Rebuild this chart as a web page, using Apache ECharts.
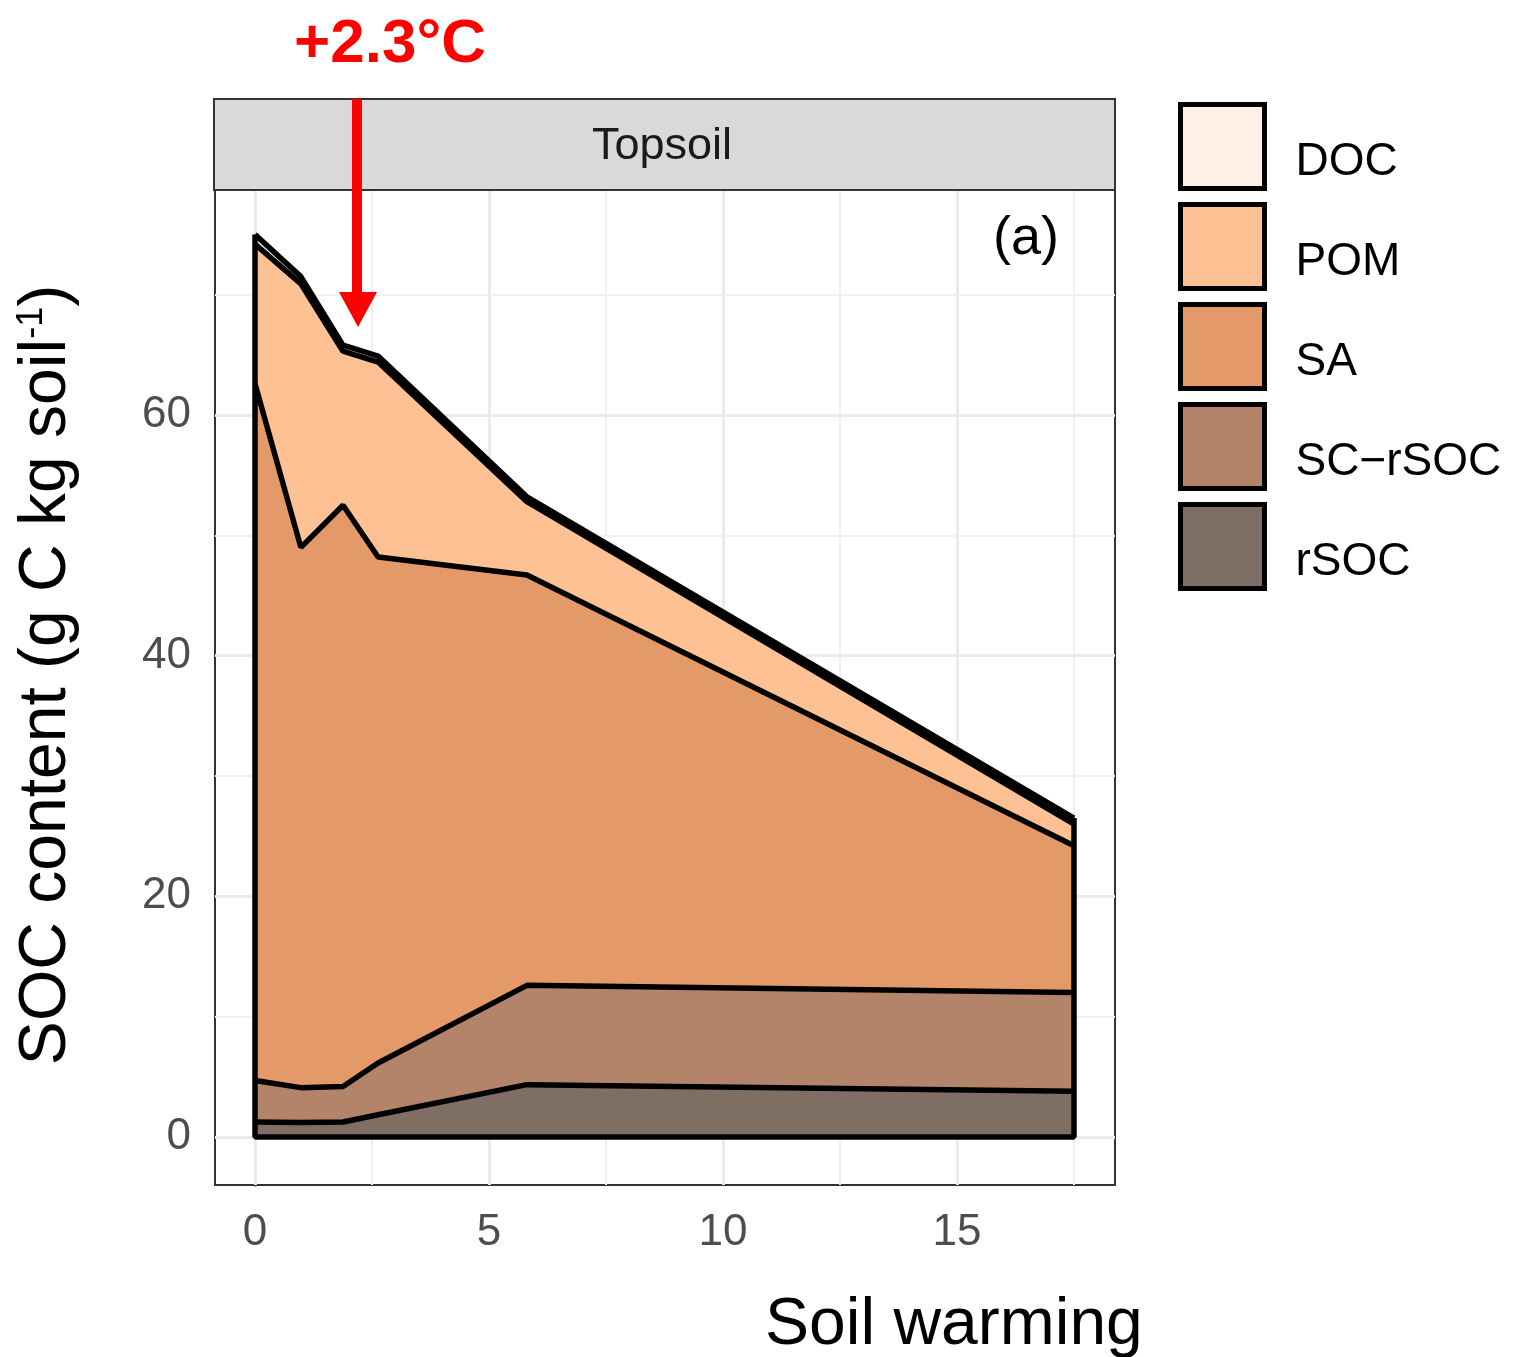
<!DOCTYPE html>
<html>
<head>
<meta charset="utf-8">
<script src="https://cdn.jsdelivr.net/npm/echarts@6/dist/echarts.min.js"></script>
<style>
  html, body { margin: 0; padding: 0; background: #fff; }
  #chart { width: 1516px; height: 1357px; }
</style>
</head>
<body>
<div id="chart"></div>
<script>
// soil warming (deg C) and fraction contents (g C kg soil-1), bottom to top
const warming = [0, 0.98, 1.88, 2.63, 5.81, 17.5]
const rSOC = [1.25, 1.2, 1.25, 1.85, 4.35, 3.8]
const scRSOC = [3.45, 2.9, 2.95, 4.3, 8.25, 8.2]
const sa = [57.9, 44.9, 48.3, 42.05, 34.1, 12.2]
const pom = [11.6, 21.9, 12.8, 16.2, 6.1, 1.8]
const doc = [0.8, 0.6, 0.5, 0.5, 0.4, 0.5]

const fractions = ['rSOC', 'SC\u2212rSOC', 'SA', 'POM', 'DOC']
const legendOrder = ['DOC', 'POM', 'SA', 'SC\u2212rSOC', 'rSOC']
const values = [rSOC, scRSOC, sa, pom, doc]
const fills = ['#7f6e64', '#b3846a', '#e39a68', '#fdc194', '#fef0e4']

const xTicks = [0, 5, 10, 15]
const xMinor = [2.5, 7.5, 12.5, 17.5]
const yTicks = [0, 20, 40, 60]
const yMinor = [10, 30, 50, 70]

const FONT = 'Liberation Sans'
const chart = echarts.init(document.getElementById('chart'))

// cumulative tops of each layer (stacked by hand, x is a value axis)
let cumulative = []
values.forEach((v, k) => {
  cumulative.push(v.map((y, i) => y + (k > 0 ? cumulative[k - 1][i] : 0)))
})
const totals = cumulative[cumulative.length - 1]
const last = warming.length - 1

const toPoints = (v) => warming.map((x, i) => [x, v[i]])

let series = []

// background grid lines
series.push({
  type: 'line',
  name: 'grid',
  data: [[0, 0]],
  symbol: 'none',
  lineStyle: {opacity: 0},
  z: 1,
  markLine: {
    silent: true,
    z: 1,
    symbol: ['none', 'none'],
    label: {show: false},
    animation: false,
    data: [
      ...xTicks.map(v => ({xAxis: v, lineStyle: {color: '#ebebeb', width: 3, type: 'solid'}})),
      ...xMinor.map(v => ({xAxis: v, lineStyle: {color: '#f0f0f0', width: 2, type: 'solid'}})),
      ...yTicks.map(v => ({yAxis: v, lineStyle: {color: '#ebebeb', width: 3, type: 'solid'}})),
      ...yMinor.map(v => ({yAxis: v, lineStyle: {color: '#f0f0f0', width: 2, type: 'solid'}}))
    ]
  }
})

// filled areas, top layer first so lower layers paint over it
for (let k = fractions.length - 1; k >= 0; k--) {
  series.push({
    type: 'line',
    name: fractions[k],
    data: toPoints(cumulative[k]),
    showSymbol: false,
    symbol: 'none',
    color: fills[k],
    lineStyle: {width: 0},
    areaStyle: {color: fills[k], opacity: 1, origin: 0},
    z: 2
  })
}

// black outlines on top of each layer
fractions.forEach((name, k) => {
  series.push({
    type: 'line',
    name: name + ' outline',
    data: toPoints(cumulative[k]),
    showSymbol: false,
    symbol: 'none',
    lineStyle: {color: '#000', width: 5.5},
    z: 3
  })
})

// closing edges of the polygons
series.push({
  type: 'line',
  name: 'edges',
  data: [[warming[0], totals[0]], [warming[0], 0], [warming[last], 0], [warming[last], totals[last]]],
  showSymbol: false,
  symbol: 'none',
  lineStyle: {color: '#000', width: 5.5},
  z: 3
})

const option = {
  animation: false,
  backgroundColor: '#fff',
  textStyle: {fontFamily: FONT},
  grid: {
    left: 215, top: 190, width: 900, height: 995,
    show: true, borderColor: '#333', borderWidth: 2, backgroundColor: '#fff'
  },
  legend: {
    data: legendOrder,
    orient: 'vertical',
    left: 1178,
    top: 102,
    padding: 0,
    itemWidth: 84,
    itemHeight: 84,
    itemGap: 11,
    icon: 'rect',
    selectedMode: false,
    itemStyle: {borderColor: '#000', borderWidth: 5},
    formatter: (name) => '{t|' + name + '}',
    textStyle: {
      fontSize: 46, color: '#000', fontFamily: FONT,
      rich: {t: {fontSize: 46, lineHeight: 50, color: '#000', fontFamily: FONT, padding: [32, 0, 0, 26]}}
    }
  },
  xAxis: {
    type: 'value',
    min: -0.855,
    max: 18.376,
    axisLine: {show: true, lineStyle: {color: '#333', width: 2}},
    axisTick: {show: true, length: 13, lineStyle: {color: '#333', width: 3}, customValues: xTicks},
    axisLabel: {customValues: xTicks, fontSize: 44, color: '#4d4d4d', margin: 26, fontFamily: FONT},
    splitLine: {show: false}
  },
  yAxis: {
    type: 'value',
    min: -3.99,
    max: 78.7,
    axisLine: {show: true, lineStyle: {color: '#333', width: 3}},
    axisTick: {show: true, length: 14, lineStyle: {color: '#333', width: 3}, customValues: yTicks},
    axisLabel: {customValues: yTicks, fontSize: 44, color: '#4d4d4d', margin: 24, fontFamily: FONT},
    splitLine: {show: false}
  },
  graphic: [
    {
      type: 'rect',
      shape: {x: 214, y: 99, width: 901, height: 91},
      style: {fill: '#d9d9d9', stroke: '#333', lineWidth: 2},
      z: 10
    },
    {
      type: 'text',
      x: 662, y: 147,
      style: {text: 'Topsoil', font: '45px "Liberation Sans"', fill: '#1a1a1a', textAlign: 'center', textVerticalAlign: 'middle'},
      z: 11
    },
    {
      type: 'text',
      x: 1026, y: 239,
      style: {text: '(a)', font: '54px "Liberation Sans"', fill: '#000', textAlign: 'center', textVerticalAlign: 'middle'},
      z: 11
    },
    {
      type: 'text',
      x: 765, y: 1326,
      style: {text: 'Soil warming', font: '66px "Liberation Sans"', fill: '#000', textAlign: 'left', textVerticalAlign: 'middle'},
      z: 11
    },
    {
      type: 'text',
      x: 47, y: 675,
      rotation: Math.PI / 2,
      style: {
        text: 'SOC content (g C kg soil{sup|-1})',
        font: '66px "Liberation Sans"',
        fill: '#000',
        textAlign: 'center',
        textVerticalAlign: 'middle',
        rich: {
          sup: {fontSize: 36, fontFamily: FONT, fill: '#000', verticalAlign: 'top'}
        }
      },
      z: 11
    },
    {
      type: 'text',
      x: 390, y: 45,
      style: {text: '+2.3\u00b0C', font: 'bold 62px "Liberation Sans"', fill: '#ff0000', textAlign: 'center', textVerticalAlign: 'middle'},
      z: 12
    },
    {
      type: 'rect',
      shape: {x: 352, y: 99, width: 10, height: 196},
      style: {fill: '#ff0000'},
      z: 12
    },
    {
      type: 'polygon',
      shape: {points: [[339, 292], [377, 292], [358, 327]]},
      style: {fill: '#ff0000'},
      z: 12
    }
  ],
  series: series
}

chart.setOption(option)
</script>
</body>
</html>
